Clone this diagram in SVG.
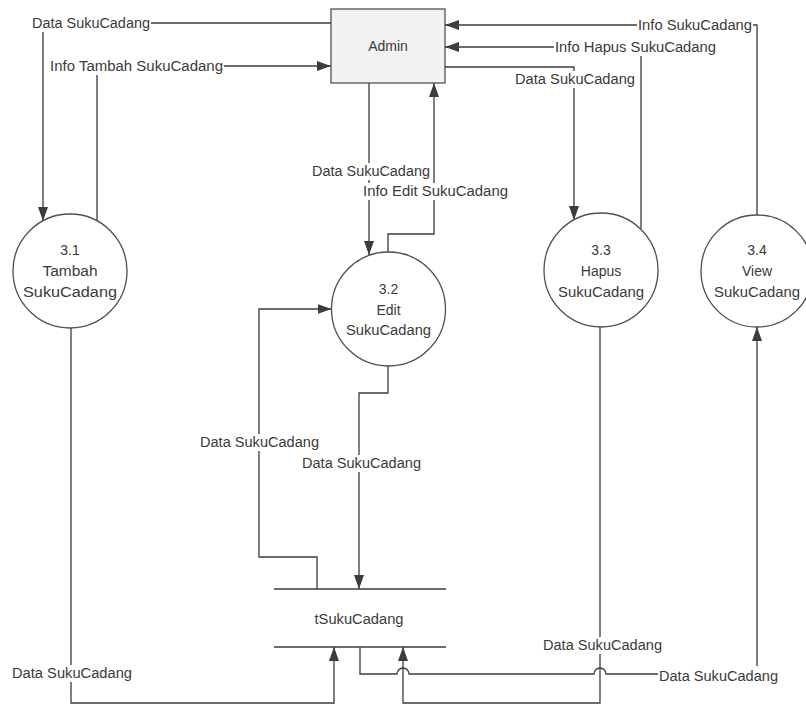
<svg xmlns="http://www.w3.org/2000/svg" width="806" height="704" viewBox="0 0 806 704">
<defs>
<marker id="arr" markerUnits="userSpaceOnUse" markerWidth="14" markerHeight="10" refX="14" refY="5" orient="auto">
<path d="M0,0 L14,5 L0,10 z" fill="#3c3c3c"/>
</marker>
<style>
.c{fill:none;stroke:#3c3c3c;stroke-width:1.3;marker-end:url(#arr)}
.l{fill:none;stroke:#3c3c3c;stroke-width:1.3}
.p{fill:#ffffff;stroke:#505050;stroke-width:1.3}
.t{font-family:"Liberation Sans",Arial,sans-serif;font-size:14px;fill:#3a3a3a;text-anchor:middle}
.bg{fill:#ffffff}
</style>
</defs>
<rect x="0" y="0" width="806" height="704" fill="#ffffff"/>

<g id="connectors">
<path class="c" d="M331,23 H43 V221"/>
<path class="c" d="M97,221 V66 H331"/>
<path class="c" d="M369,83 V255"/>
<path class="c" d="M388,252 V234 H434 V83"/>
<path class="c" d="M445,67 H574 V220"/>
<path class="c" d="M641,229 V47 H445"/>
<path class="c" d="M757,215 V25 H445"/>
<path class="c" d="M388,366 V393 H359 V589"/>
<path class="c" d="M317,589 V557 H259 V309 H331.5"/>
<path class="c" d="M71,328 V703 H334 V647"/>
<path class="c" d="M600,327 V703 H403 V647"/>
<path class="c" d="M360,647 V674 H397 A6,6 0 0 1 409,674 H594 A6,6 0 0 1 606,674 H757 V327"/>
</g>

<g id="labels">
<rect class="bg" x="31" y="15" width="120" height="17"/>
<text class="t" x="91" y="28" textLength="118" lengthAdjust="spacingAndGlyphs">Data SukuCadang</text>
<rect class="bg" x="49" y="58" width="175" height="17"/>
<text class="t" x="136.5" y="71" textLength="173" lengthAdjust="spacingAndGlyphs">Info Tambah SukuCadang</text>
<rect class="bg" x="637" y="17" width="116" height="17"/>
<text class="t" x="695" y="30" textLength="114" lengthAdjust="spacingAndGlyphs">Info SukuCadang</text>
<rect class="bg" x="554" y="39" width="163" height="17"/>
<text class="t" x="635.5" y="52" textLength="161" lengthAdjust="spacingAndGlyphs">Info Hapus SukuCadang</text>
<rect class="bg" x="514" y="71" width="122" height="17"/>
<text class="t" x="575" y="84" textLength="120" lengthAdjust="spacingAndGlyphs">Data SukuCadang</text>
<rect class="bg" x="311" y="163" width="120" height="17"/>
<text class="t" x="371" y="176" textLength="118" lengthAdjust="spacingAndGlyphs">Data SukuCadang</text>
<rect class="bg" x="362" y="183" width="147" height="17"/>
<text class="t" x="435.5" y="196" textLength="145" lengthAdjust="spacingAndGlyphs">Info Edit SukuCadang</text>
<rect class="bg" x="199" y="434" width="121" height="17"/>
<text class="t" x="259.5" y="447" textLength="119" lengthAdjust="spacingAndGlyphs">Data SukuCadang</text>
<rect class="bg" x="301" y="455" width="121" height="17"/>
<text class="t" x="361.5" y="468" textLength="119" lengthAdjust="spacingAndGlyphs">Data SukuCadang</text>
<rect class="bg" x="11" y="665" width="122" height="17"/>
<text class="t" x="72" y="678" textLength="120" lengthAdjust="spacingAndGlyphs">Data SukuCadang</text>
<rect class="bg" x="542" y="637" width="121" height="17"/>
<text class="t" x="602.5" y="650" textLength="119" lengthAdjust="spacingAndGlyphs">Data SukuCadang</text>
<rect class="bg" x="658" y="666" width="121" height="17"/>
<text class="t" x="718.5" y="681" textLength="119" lengthAdjust="spacingAndGlyphs">Data SukuCadang</text>
</g>

<g id="admin">
<rect x="331" y="9" width="114" height="74" fill="#f2f2f2" stroke="#505050" stroke-width="1.3"/>
<text class="t" x="388" y="51">Admin</text>
</g>

<g id="p31">
<circle class="p" cx="70" cy="271" r="57"/>
<text class="t" x="70" y="255">3.1</text>
<text class="t" x="70" y="276" textLength="55" lengthAdjust="spacingAndGlyphs">Tambah</text>
<text class="t" x="70" y="297" textLength="94" lengthAdjust="spacingAndGlyphs">SukuCadang</text>
</g>

<g id="p32">
<circle class="p" cx="388.5" cy="309" r="57"/>
<text class="t" x="388.5" y="294">3.2</text>
<text class="t" x="388.5" y="315">Edit</text>
<text class="t" x="388.5" y="335" textLength="85" lengthAdjust="spacingAndGlyphs">SukuCadang</text>
</g>

<g id="p33">
<circle class="p" cx="601" cy="270" r="57"/>
<text class="t" x="601" y="255">3.3</text>
<text class="t" x="601" y="276">Hapus</text>
<text class="t" x="601" y="297" textLength="86" lengthAdjust="spacingAndGlyphs">SukuCadang</text>
</g>

<g id="p34">
<circle class="p" cx="757" cy="271" r="56"/>
<text class="t" x="757" y="255">3.4</text>
<text class="t" x="757" y="276">View</text>
<text class="t" x="757" y="297" textLength="86" lengthAdjust="spacingAndGlyphs">SukuCadang</text>
</g>

<g id="store">
<path class="l" d="M274,589 H446 M274,647 H446"/>
<text class="t" x="359" y="624" textLength="89" lengthAdjust="spacingAndGlyphs">tSukuCadang</text>
</g>
</svg>
